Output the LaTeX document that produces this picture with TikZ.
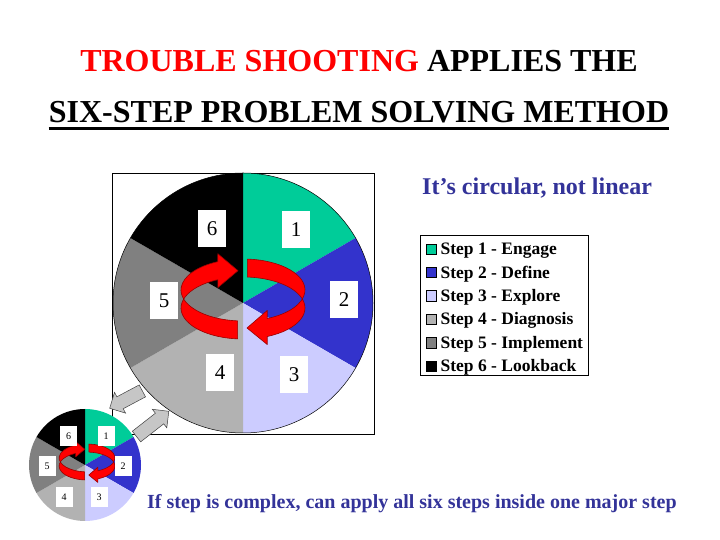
\documentclass[tikz,border=0pt]{standalone}
\usepackage{fontspec}
\setmainfont{Liberation Serif}
\usetikzlibrary{shapes.arrows}
\definecolor{engage}{RGB}{0,204,153}
\definecolor{define}{RGB}{51,51,204}
\definecolor{explore}{RGB}{204,204,255}
\definecolor{diagnosis}{RGB}{178,178,178}
\definecolor{implement}{RGB}{128,128,128}
\colorlet{lookback}{black}
\definecolor{slideblue}{RGB}{51,51,153}
\colorlet{ribbonedge}{red!60!black}

% six sectors, clockwise from the top
\newcommand{\stepwheel}[1]{%
  \foreach \col [count=\i from 0] in {engage,define,explore,diagnosis,implement,lookback}
    \fill[\col] (0,0) -- ({90-60*\i}:#1) arc[start angle={90-60*\i}, end angle={30-60*\i}, radius=#1] -- cycle;
}
% the two red ribbon arrows
\newcommand{\stepcycle}{%
  \filldraw[ribbon] (0,9) ++(86:62 and 31) arc[start angle=86, end angle=-67, x radius=62, y radius=31]
    -- (24.2,-11.5) -- (4,-29) -- (24.2,-45.5) -- (24.2,-37.5)
    arc[start angle=-67, end angle=86, x radius=62, y radius=31] -- cycle;
  \filldraw[ribbon] (0,9) ++(265:62 and 31) arc[start angle=265, end angle=114, x radius=62, y radius=31]
    -- (-25.2,45.3) -- (-5,28.3) -- (-25.2,11.3) -- (-25.2,19.3)
    arc[start angle=114, end angle=265, x radius=62, y radius=31] -- cycle;
}

\begin{document}
\begin{tikzpicture}[x=1pt, y=1pt]
\tikzset{ribbon/.style={fill=red, draw=ribbonedge, line width=0.6pt, line join=round}}
\tikzset{bignum/.style={fill=white, inner sep=0, minimum width=28, minimum height=37, font=\fontsize{21}{21}\selectfont}}
\tikzset{smallnum/.style={fill=white, inner sep=0, minimum width=17, minimum height=20, font=\fontsize{10}{10}\selectfont}}
\tikzset{zoomarrow/.style={single arrow, fill=gray!45, draw=gray!50!black, inner xsep=0, inner ysep=6.5, single arrow head extend=5, line width=0.5pt}}
\tikzset{legendbox/.style={draw, line width=0.4pt, minimum size=10.5, inner sep=0}}
\useasboundingbox[fill=white] (0,0) rectangle (720,540);

% title
\node[anchor=base, inner sep=0, font=\fontsize{32}{38}\selectfont\bfseries] (title1) at (359,468)
  {\textcolor{red}{TROUBLE SHOOTING} APPLIES THE};
\node[anchor=base, inner sep=0, font=\fontsize{32}{38}\selectfont\bfseries] (title2) at (359,417)
  {SIX-STEP PROBLEM SOLVING METHOD};
\draw[line width=2.2pt] ([yshift=-5.5]title2.base west) -- ([yshift=-5.5]title2.base east);
\node[anchor=base west, inner sep=0, text=slideblue, font=\fontsize{24}{28}\selectfont\bfseries] (circular) at (422,345)
  {It’s circular, not linear};

% big wheel
\draw[line width=0.5pt] (112,106) rectangle (374,367);
\begin{scope}[shift={(243,237)}]
  \stepwheel{130}
  \draw[line width=0.5pt] (0,0) circle[radius=130];
\end{scope}
\begin{scope}[shift={(243,241)}]
  \stepcycle
\end{scope}
\node[bignum] (big6) at (212,311) {6};
\node[bignum] (big1) at (296,310) {1};
\node[bignum] (big2) at (344,240) {2};
\node[bignum] (big5) at (164,239) {5};
\node[bignum] (big4) at (220,167) {4};
\node[bignum] (big3) at (294,165) {3};

% legend
\draw[line width=0.5pt] (420,165) rectangle (588,305);
\foreach \col/\name [count=\i] in {engage/Engage, define/Define, explore/Explore,
    diagnosis/Diagnosis, implement/Implement, lookback/Lookback}
{
  \node[legendbox, fill=\col] (key\i) at (431,{291-23.4*(\i-1)}) {};
  \node[anchor=west, inner sep=0, font=\fontsize{17.5}{17.5}\selectfont\bfseries] (entry\i)
    at ([xshift=4,yshift=-1.5]key\i.east) {Step \i\ - \name};
}

% zoom arrows
\node[zoomarrow, minimum height=37, rotate=208] (zoomout) at (129,142) {};
\node[zoomarrow, minimum height=41, rotate=38] (zoomin) at (150,114) {};

% small wheel
\begin{scope}[shift={(85,75)}]
  \stepwheel{56}
\end{scope}
\begin{scope}[shift={(87,78)}, scale=0.45]
  \stepcycle
\end{scope}
\node[smallnum] (small6) at (68.7,104) {6};
\node[smallnum] (small1) at (106,104) {1};
\node[smallnum] (small5) at (47,74) {5};
\node[smallnum] (small2) at (123,74) {2};
\node[smallnum] (small4) at (64,43) {4};
\node[smallnum] (small3) at (99,43) {3};

\node[anchor=base west, inner sep=0, text=slideblue, font=\fontsize{20}{24}\selectfont\bfseries] (complex) at (147,31)
  {If step is complex, can apply all six steps inside one major step};
\end{tikzpicture}
\end{document}
